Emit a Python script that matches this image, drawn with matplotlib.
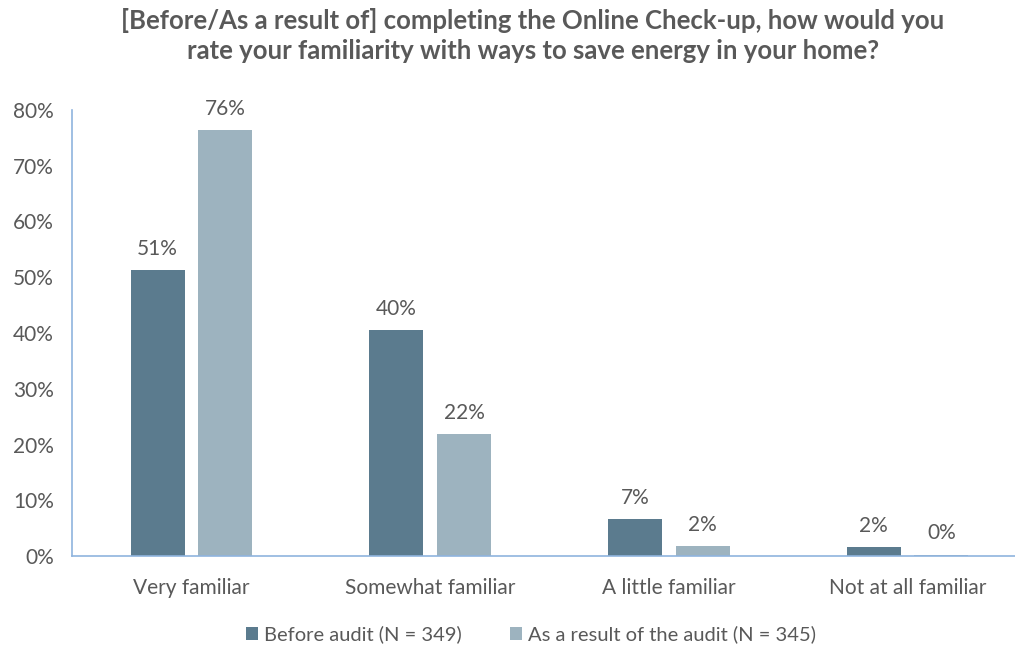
import matplotlib
matplotlib.use("Agg")
import matplotlib.pyplot as plt
import numpy as np

categories = ["Very familiar", "Somewhat familiar", "A little familiar", "Not at all familiar"]
before_audit = [51.3, 40.5, 6.6, 1.6]
after_audit = [76.4, 21.9, 1.8, 0.3]
series_labels = ["Before audit (N = 349)", "As a result of the audit (N = 345)"]
y_ticks = [0, 10, 20, 30, 40, 50, 60, 70, 80]

dark = "#5b7b8e"
light = "#9db3bf"
axis_blue = "#8fb4de"
text_gray = "#595959"

plt.rcParams["font.family"] = ["Lato", "DejaVu Sans"]

fig = plt.figure(figsize=(10.15, 6.46), dpi=100)
ax = fig.add_axes([0.071, 0.139, 0.929, 0.691])

x = np.arange(len(categories))
w = 0.226
off = 0.142
b1 = ax.bar(x - off, before_audit, w, color=dark, label=series_labels[0])
b2 = ax.bar(x + off, after_audit, w, color=light, label=series_labels[1])

for bars, vals in ((b1, before_audit), (b2, after_audit)):
    for rect, v in zip(bars, vals):
        ax.text(rect.get_x() + rect.get_width() / 2, v + 2.0, f"{v:.0f}%",
                ha="center", va="bottom", fontsize=15, color=text_gray)

ax.set_ylim(0, 80)
ax.set_xlim(-0.5, 3.45)
ax.set_yticks(y_ticks)
ax.set_yticklabels([f"{t}%" for t in y_ticks])
ax.set_xticks(x)
ax.set_xticklabels(categories)
ax.tick_params(axis="both", length=0, labelsize=15, labelcolor=text_gray)
ax.tick_params(axis="y", pad=13)
ax.tick_params(axis="x", pad=16)

for s in ("top", "right"):
    ax.spines[s].set_visible(False)
for s in ("left", "bottom"):
    ax.spines[s].set_color(axis_blue)
    ax.spines[s].set_linewidth(1.2)

fig.text(0.525, 0.988, "[Before/As a result of] completing the Online Check-up, how would you\n"
         "rate your familiarity with ways to save energy in your home?",
         ha="center", va="top", fontsize=18.5, fontweight="bold", color=text_gray,
         linespacing=1.3)

fig.legend(handles=[b1, b2], labels=series_labels, loc="center",
           bbox_to_anchor=(0.523, 0.018), ncol=2, frameon=False, fontsize=14.5,
           labelcolor=text_gray, handlelength=0.6, handleheight=0.6,
           handletextpad=0.3, columnspacing=2.4)

fig.savefig("out.png", dpi=100, facecolor="white")
